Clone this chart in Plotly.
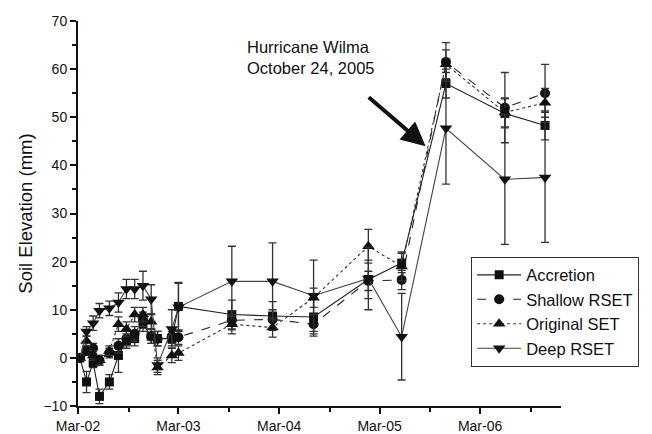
import plotly.graph_objects as go

dates = ["2002-03-08", "2002-04-01", "2002-04-25", "2002-05-18", "2002-06-23",
         "2002-07-26", "2002-08-24", "2002-09-23", "2002-10-23", "2002-11-22",
         "2002-12-15", "2003-02-05", "2003-03-01", "2003-09-11", "2004-02-06",
         "2004-07-04", "2005-01-19", "2005-05-20", "2005-10-28", "2006-05-30",
         "2006-10-23"]

accretion = [0, -5, -1, -8, -5, 0.5, 3.5, 4.0, 7.0, 4.5, 4.0, 4.0, 10.7,
             9.0, 8.7, 8.5, 16.3, 19.7, 57.0, 50.8, 48.3]
accretion_err = [0.5, 2.2, 1, 1.5, 1.5, 3.5, 1.5, 1.5, 1.5, 1.5, 1.5, 1.5, 5,
                 3, 3, 4, 4, 2, 3, 3, 3]

shallow = [0, 1.5, 2.0, -0.5, 1.0, 2.5, 4.0, 5.0, 8.0, 4.5, 4.0, 4.5, 4.3,
           7.8, 8.0, 7.0, 16.0, 16.2, 61.5, 52.0, 55.0]
shallow_err = [0.5, 1, 1, 1, 1, 1.5, 1.5, 1.5, 1.5, 1.5, 1.5, 1.5, 1.5,
               2, 2, 2, 2, 2, 4, 7.3, 6]

original = [0, 3.5, 0.5, -0.5, 1.5, 7.0, 6.0, 9.0, 9.0, 7.5, -2.0, 0.5, 1.0,
            7.0, 6.3, 12.5, 23.2, 19.0, 61.0, 51.0, 53.0]
original_err = [0.5, 1, 1, 1, 1, 1.5, 1.5, 1.5, 1.5, 1.5, 1.5, 1.5, 1.5,
                2, 2, 2, 3.5, 3, 3, 3, 3]

deep = [0, 5.5, 7.2, 9.8, 10.3, 11.5, 14.3, 14.3, 15.0, 12.2, -1.5, 6.0, 10.5,
        15.9, 15.9, 12.9, 16.5, 4.4, 47.7, 37.1, 37.5]
deep_err = [0.5, 1, 1.5, 1.5, 1.5, 2, 2, 2, 3, 3, 1.5, 4, 5,
            7.3, 8, 7.4, 6.5, 9, 11.6, 13.5, 13.5]

series = [
    ("Accretion", accretion, accretion_err, "square", 9, "solid", "#222"),
    ("Shallow RSET", shallow, shallow_err, "circle", 10, "dash", "#222"),
    ("Original SET", original, original_err, "triangle-up", 11, "dot", "#333"),
    ("Deep RSET", deep, deep_err, "triangle-down", 11, "solid", "#444"),
]

fig = go.Figure()
for name, vals, errs, sym, size, dash, lc in series:
    fig.add_trace(go.Scatter(
        x=dates, y=vals, name=name, mode="lines+markers",
        line=dict(color=lc, width=1.1, dash=dash),
        marker=dict(symbol=sym, size=size, color="#111"),
        error_y=dict(type="data", array=errs, visible=True,
                     color="#333", thickness=1.3, width=4),
    ))

font_family = "Liberation Sans, Arial, sans-serif"

# page body adds an 8px offset, so the figure is sized to fit the window
fig.update_layout(
    width=644, height=426,
    margin=dict(l=70, r=91, t=13, b=28, autoexpand=False),
    paper_bgcolor="white", plot_bgcolor="white",
    font=dict(family=font_family, color="#111", size=14),
    showlegend=True,
    legend=dict(x=0.814, y=0.388, xanchor="left", yanchor="top",
                bgcolor="white", bordercolor="#333", borderwidth=1,
                font=dict(size=16.5, color="#111"),
                tracegroupgap=0, itemwidth=44),
)

fig.update_xaxes(
    type="date", range=["2002-03-01", "2006-12-20"], automargin=False,
    tick0="2002-03-01", dtick="M12", tickformat="%b-%y",
    ticks="outside", ticklen=6, tickwidth=1.5, tickcolor="#111",
    showline=True, linecolor="#111", linewidth=2, showgrid=False, zeroline=False,
    tickfont=dict(size=14),
    minor=dict(dtick="M6", tick0="2002-03-01", ticks="outside", ticklen=4,
               tickcolor="#111", showgrid=False),
)
fig.update_yaxes(
    range=[-10, 70], dtick=10, tick0=0, automargin=False,
    ticks="outside", ticklen=6, tickwidth=1.5, tickcolor="#111",
    showline=True, linecolor="#111", linewidth=2, showgrid=False, zeroline=False,
    tickfont=dict(size=14),
    title=dict(text="Soil Elevation (mm)", font=dict(size=18.5), standoff=6),
    minor=dict(dtick=5, ticks="outside", ticklen=4, tickcolor="#111", showgrid=False),
)

fig.add_annotation(
    text="Hurricane Wilma<br>October 24, 2005", xref="paper", yref="paper",
    x=0.346, y=0.96, xanchor="left", yanchor="top", align="left",
    showarrow=False, font=dict(size=16.5, color="#111"),
)
fig.add_annotation(
    text="", x="2005-08-15", y=44, xref="x", yref="y",
    ax="2005-01-15", ay=54.4, axref="x", ayref="y",
    showarrow=True, arrowhead=2, arrowsize=1.2, arrowwidth=4,
    arrowcolor="#111", standoff=0,
)

fig.write_html("out.html")
